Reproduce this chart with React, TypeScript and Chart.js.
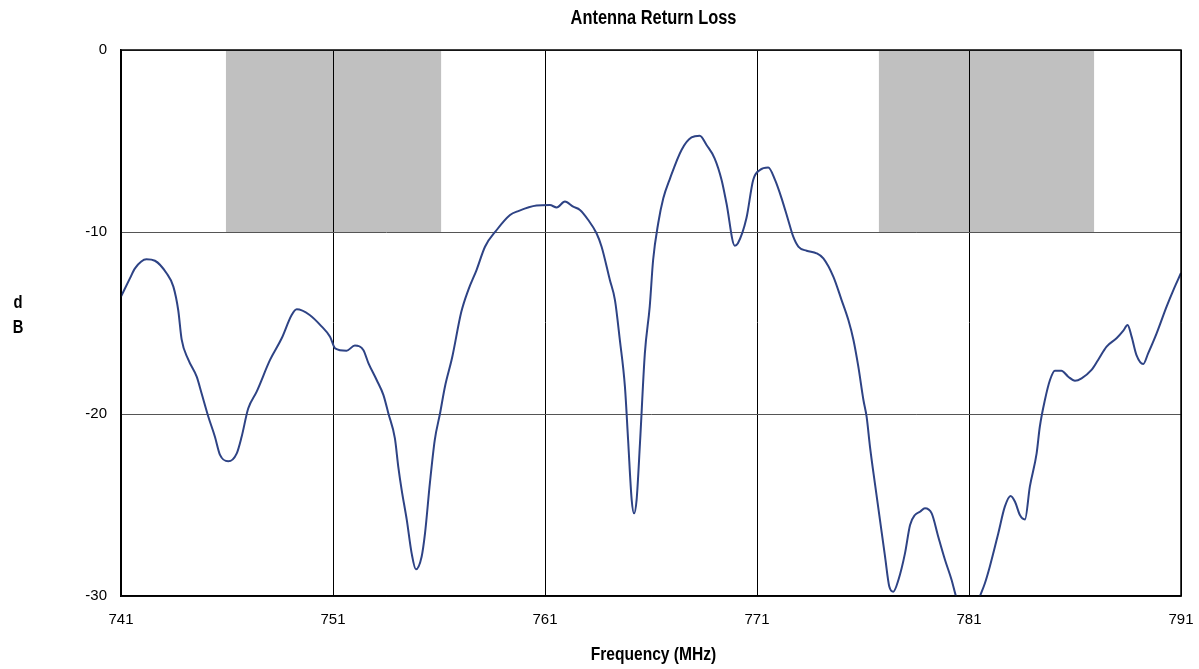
import React, { useEffect, useRef } from "react";
import { Chart, registerables } from "chart.js";

Chart.register(...registerables);

const chartTitle = "Antenna Return Loss";
const xAxisTitle = "Frequency (MHz)";
const yAxisTitleLines = ["d", "B"];

const frequencies = [
  741.0, 741.42, 741.66, 742.2, 742.6, 743.15, 743.47, 743.7, 743.86, 744.17,
  744.57, 744.8, 745.12, 745.43, 745.67, 746.06, 746.46, 746.69, 747.0, 747.4,
  748.03, 748.58, 749.05, 749.29, 749.9, 750.47, 750.86, 751.1, 751.64, 752.03,
  752.43, 752.67, 753.06, 753.38, 753.61, 753.92, 754.08, 754.24, 754.48, 754.71,
  754.91, 755.18, 755.34, 755.57, 755.8, 756.05, 756.28, 756.62, 757.05, 757.38,
  757.77, 758.17, 758.72, 759.35, 759.74, 760.6, 761.23, 761.55, 761.94, 762.33,
  762.65, 763.04, 763.43, 763.67, 764.06, 764.3, 764.53, 764.77, 764.92, 765.09,
  765.2, 765.32, 765.48, 765.71, 765.94, 766.1, 766.34, 766.58, 766.9, 767.44,
  767.91, 768.3, 768.62, 769.0, 769.33, 769.56, 769.95, 770.1, 770.5, 770.82,
  771.14, 771.53, 771.85, 772.16, 772.47, 772.71, 772.95, 773.34, 773.81, 774.13,
  774.6, 774.99, 775.31, 775.55, 775.78, 776.02, 776.17, 776.33, 776.56, 776.8,
  777.04, 777.24, 777.43, 777.67, 777.98, 778.22, 778.45, 778.69, 778.92, 779.24,
  779.55, 779.87, 780.18, 780.39, 780.7, 781.1, 781.52, 781.75, 781.98, 782.38,
  782.69, 782.96, 783.17, 783.4, 783.64, 783.87, 784.19, 784.34, 784.58, 784.82,
  785.05, 785.36, 785.68, 786.0, 786.31, 786.78, 787.09, 787.49, 787.96, 788.28,
  788.48, 788.67, 788.9, 789.22, 789.45, 789.85, 790.32, 790.64, 791.0,
];

const returnLossDb = [
  -13.55, -12.55, -12.0, -11.5, -11.58, -12.27, -13.0, -14.3, -15.9, -17.0,
  -17.95, -18.86, -20.15, -21.25, -22.25, -22.6, -22.16, -21.25, -19.7, -18.77,
  -17.03, -15.84, -14.56, -14.25, -14.56, -15.2, -15.75, -16.39, -16.52, -16.24,
  -16.48, -17.2, -18.13, -18.96, -19.96, -21.34, -22.9, -24.18, -25.82, -27.66,
  -28.53, -27.84, -26.56, -23.8, -21.43, -19.96, -18.5, -16.9, -14.4, -13.19,
  -12.09, -10.81, -9.89, -9.07, -8.85, -8.55, -8.52, -8.65, -8.33, -8.61,
  -8.79, -9.34, -10.07, -10.81, -12.64, -13.74, -15.93, -18.5, -21.43, -24.73,
  -25.46, -24.73, -21.61, -16.67, -14.1, -11.54, -9.52, -8.15, -7.05, -5.49,
  -4.8, -4.71, -5.22, -5.95, -7.14, -8.42, -10.75, -10.62, -9.25, -7.14,
  -6.59, -6.46, -7.14, -8.15, -9.34, -10.26, -10.8, -11.03, -11.17, -11.45,
  -12.45, -13.74, -14.84, -15.93, -17.4, -19.23, -20.15, -21.8, -23.8, -25.82,
  -27.84, -29.48, -29.76, -29.12, -27.66, -26.1, -25.55, -25.37, -25.18, -25.46,
  -26.74, -28.02, -29.12, -30.03, -31.0, -31.3, -30.0, -29.3, -28.39, -26.56,
  -25.09, -24.5, -24.82, -25.55, -25.79, -23.99, -22.16, -20.7, -19.23, -18.13,
  -17.62, -17.62, -17.95, -18.17, -18.04, -17.58, -17.03, -16.3, -15.84, -15.42,
  -15.11, -15.75, -16.76, -17.25, -16.67, -15.57, -14.1, -13.19, -12.25,
];

const bandStarts = [745.95, 776.75];
const bandEnds = [756.1, 786.9];
const bandTop = [0, 0];
const bandBottom = [-10, -10];

const xMin = 741;
const xMax = 791;
const xStep = 10;
const yMin = -30;
const yMax = 0;
const yStep = 10;

const FONT = "'Liberation Sans', Arial, sans-serif";
const NARROW = 0.82;

function drawNarrowText(ctx: any, text: string, cx: number, cy: number, size: number) {
  ctx.save();
  ctx.font = `bold ${size}px ${FONT}`;
  ctx.fillStyle = "#000";
  ctx.textAlign = "center";
  ctx.textBaseline = "middle";
  ctx.translate(cx, cy);
  ctx.scale(NARROW, 1);
  ctx.fillText(text, 0, 0);
  ctx.restore();
}

const bandsPlugin = {
  id: "bands",
  beforeDraw(chart: any) {
    const { ctx, scales } = chart;
    const xs = scales.x;
    const ys = scales.y;
    ctx.save();
    ctx.fillStyle = "#c0c0c0";
    for (let i = 0; i < bandStarts.length; i++) {
      const x0 = xs.getPixelForValue(bandStarts[i]);
      const x1 = xs.getPixelForValue(bandEnds[i]);
      const y0 = ys.getPixelForValue(bandTop[i]);
      const y1 = ys.getPixelForValue(bandBottom[i]);
      ctx.fillRect(x0, y0, x1 - x0, y1 - y0);
    }
    ctx.restore();
  },
};

const framePlugin = {
  id: "frame",
  afterDatasetsDraw(chart: any) {
    const { ctx, chartArea } = chart;
    ctx.save();
    ctx.strokeStyle = "#000";
    ctx.lineWidth = 1.5;
    ctx.strokeRect(chartArea.left, chartArea.top, chartArea.right - chartArea.left, chartArea.bottom - chartArea.top);
    ctx.restore();
  },
  afterDraw(chart: any) {
    const { ctx, chartArea } = chart;
    const cx = (chartArea.left + chartArea.right) / 2 + 2.5;
    drawNarrowText(ctx, chartTitle, cx, chartArea.top - 32, 20);
    drawNarrowText(ctx, xAxisTitle, cx, chartArea.bottom + 59, 19);
    const cy = (chartArea.top + chartArea.bottom) / 2;
    yAxisTitleLines.forEach((t, i) => {
      drawNarrowText(ctx, t, 18, cy - 20 + i * 25, 18);
    });
  },
};

export default function App() {
  const canvasRef = useRef<HTMLCanvasElement | null>(null);

  useEffect(() => {
    document.body.style.margin = "0";
    const canvas = canvasRef.current;
    if (!canvas) return;
    const points = frequencies.map((f, i) => ({ x: f, y: returnLossDb[i] }));
    const chart = new Chart(canvas, {
      type: "line",
      data: {
        datasets: [
          {
            data: points,
            borderColor: "#2E4385",
            borderWidth: 2,
            pointRadius: 0,
            fill: false,
            cubicInterpolationMode: "monotone",
          },
        ],
      },
      options: {
        responsive: false,
        animation: false,
        devicePixelRatio: 1,
        layout: { padding: { left: 0, right: 18, top: 50, bottom: 0 } },
        plugins: {
          legend: { display: false },
          tooltip: { enabled: false },
          title: { display: false },
        },
        scales: {
          x: {
            type: "linear",
            min: xMin,
            max: xMax,
            afterFit(scale: any) {
              scale.height = 73;
              scale.paddingLeft = 0;
              scale.paddingRight = 0;
            },
            ticks: {
              stepSize: xStep,
              color: "#000",
              font: { family: FONT, size: 15 },
              padding: 15,
              maxRotation: 0,
            },
            grid: { color: "#000", lineWidth: 1, drawTicks: false },
            border: { color: "#000", width: 1.5 },
          },
          y: {
            type: "linear",
            min: yMin,
            max: yMax,
            afterFit(scale: any) {
              scale.width = 121;
              scale.paddingTop = 0;
              scale.paddingBottom = 0;
            },
            ticks: {
              stepSize: yStep,
              color: "#000",
              font: { family: FONT, size: 15 },
              padding: 14,
            },
            grid: { color: "#555", lineWidth: 1, drawTicks: false },
            border: { color: "#000", width: 1.5 },
          },
        },
      },
      plugins: [bandsPlugin, framePlugin],
    });
    return () => chart.destroy();
  }, []);

  return (
    <div style={{ width: 1199, height: 669, background: "#fff" }}>
      <canvas ref={canvasRef} width={1199} height={669} style={{ display: "block" }} />
    </div>
  );
}
